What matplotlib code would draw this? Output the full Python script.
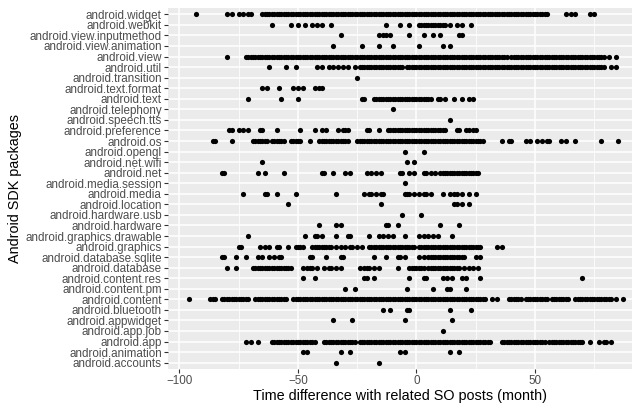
import matplotlib
matplotlib.use("Agg")
import matplotlib.pyplot as plt

plt.rcParams['font.family'] = ['Liberation Sans', 'DejaVu Sans']

# packages, top to bottom as in the chart
packages = ['android.widget', 'android.webkit', 'android.view.inputmethod',
            'android.view.animation', 'android.view', 'android.util',
            'android.transition', 'android.text.format', 'android.text',
            'android.telephony', 'android.speech.tts', 'android.preference',
            'android.os', 'android.opengl', 'android.net.wifi', 'android.net',
            'android.media.session', 'android.media', 'android.location',
            'android.hardware.usb', 'android.hardware', 'android.graphics.drawable',
            'android.graphics', 'android.database.sqlite', 'android.database',
            'android.content.res', 'android.content.pm', 'android.content',
            'android.bluetooth', 'android.appwidget', 'android.app.job',
            'android.app', 'android.animation', 'android.accounts']

# time differences (months)
widget = [-93, -80, -78, -75, -73, -71, -70,
          -65, -64, -63, -62, -61, -60, -59, -58, -57, -56, -55, -54, -53, -52, -51, -50,
          -49, -48, -47, -46, -45, -44, -43, -42, -41, -40, -39, -38, -37, -36, -35, -34,
          -33, -32, -31, -30, -29, -28, -27, -26, -25, -24, -23, -22, -21, -20, -19, -18,
          -17, -16, -15, -14, -13, -12, -11, -10, -9, -8, -7, -6, -5, -4, -3, -2, -1, 0,
          1, 2, 3, 4, 5, 6, 7, 8, 9, 10, 11, 12, 13, 14, 15, 16, 17, 18, 19, 20, 21, 22,
          23, 24, 25, 26, 27, 28, 29, 30, 31, 32, 33, 34, 35, 36, 37, 38, 39, 40, 41, 42,
          43, 44, 45, 46, 47, 48, 49, 50, 51, 52, 53, 54, 55,
          63, 65, 67, 73, 75]
webkit = [-61, -53, -50, -47, -44, -42, -40, -36, -13, -7, -3,
          1, 2, 3, 4, 5, 6, 7, 8, 9, 10, 11, 12, 14, 17, 19, 23]
view_inputmethod = [-32, -16, -14, -13, -11, -3, 3, 7, 10, 18, 19]
view_animation = [-35, -23, -16, -10, 1, 11, 14]
view = [-80,
        -72, -71, -70, -69, -68, -67, -66, -65, -64, -63, -62, -61, -60, -59, -58, -57,
        -56, -55, -54, -53, -52, -51, -50, -49, -48, -47, -46, -45, -44, -43, -42, -41,
        -40, -39, -38, -37, -36, -35, -34, -33, -32, -31, -30, -29, -28, -27, -26, -25,
        -24, -23, -22, -21, -20, -19, -18, -17, -16, -15, -14, -13, -12, -11, -10, -9,
        -8, -7, -6, -5, -4, -3, -2, -1, 0, 1, 2, 3, 4, 5, 6, 7, 8, 9, 10, 11, 12, 13,
        14, 15, 16, 17, 18, 19, 20, 21, 22, 23, 24, 25, 26, 27, 28, 29, 30, 31, 32, 33,
        34, 35, 36, 37, 38, 40, 41, 42, 43, 44, 45, 46, 47, 48, 49, 50, 51, 52, 53, 54,
        55, 56, 57, 58, 59, 60, 61, 62, 63, 64, 65, 66, 67, 68, 69, 70, 71, 72, 73, 74,
        75, 76, 77, 78, 79, 81, 84]
util = [-62, -55, -51, -42, -40, -37, -35, -33, -31, -29, -26,
        -24, -23, -22, -21, -20, -19, -18, -17, -16, -15, -14, -13, -12, -11, -10, -9,
        -8, -7, -6,
        -4, -3, -2, -1, 0, 1, 2, 3, 4, 5, 6, 7, 8, 9, 10, 11, 12, 13, 14, 15, 16, 17,
        18, 19, 20, 21, 22, 23, 24, 25, 26, 27, 28, 29, 30, 31, 32, 33, 34, 35, 36, 37,
        38, 39, 40, 41, 42, 43, 44, 45, 46, 47, 48, 49, 50, 51, 52, 53, 54, 55, 56, 57,
        58, 59, 60, 61, 62, 63, 64, 65, 66, 67, 68, 69, 70, 71, 72, 73, 74, 75, 76, 77,
        78, 79, 82, 84]
transition = [-25]
text_format = [-65, -63, -58, -52, -50, -48, -43, -41, -40]
text = [-71, -57, -50, -23, -22,
        -18, -17, -16, -15, -14, -13, -12, -11, -10, -9, -8, -7, -6, -5, -4, -3, -2,
        -1, 0, 1, 2, 3, 4, 5, 6, 9, 10, 12, 16, 19, 22, 24]
telephony = [-10]
speech_tts = [14]
preference = [-79, -78, -75, -73, -71, -66, -65, -59, -49, -43, -40, -38, -33, -31,
              -30, -29, -21, -20, -16,
              -12, -11, -10, -9, -8, -7, -6, -5, -4, -3, -2, -1, 0, 1, 2, 3, 4, 5, 6,
              7, 8, 9, 10, 11, 12, 17, 18, 21, 22, 24, 25]
os_ = [-86, -85, -78, -69, -68, -67, -66, -65, -64, -63, -61, -60, -59, -58, -57, -56,
       -53, -52, -51, -50, -49, -45, -41, -40, -39, -38, -37, -36, -35, -34, -33, -32,
       -31, -30, -29,
       -25, -24, -23, -22, -21, -20, -19, -18, -17, -16, -15, -14, -13, -12, -11, -10,
       -9, -8, -7, -6, -5, -4, -3, -2, -1, 0, 1, 2, 3, 4, 5, 6, 7, 8, 9, 10, 11, 12,
       13, 14, 15, 16, 17, 18, 19, 20, 21, 22, 23, 24, 25, 26, 27, 28,
       36, 39, 40, 46, 48, 51, 53, 55, 56, 61, 63, 67, 78, 85]
opengl = [-5, 3]
net_wifi = [-65, -4, -1]
net = [-82, -81, -67, -64, -56, -40, -39, -35, -30, -28, -21, -19, -17, -15, -7, -6,
       -3, -1, 3, 4, 6, 8, 10, 11, 12, 13, 14, 15, 16, 17, 18, 19, 20, 21, 22, 23, 24,
       25, 26]
media_session = [-5]
media = [-73, -64, -63, -59, -51, -34, -22, -20, -19, -17, -15, -14, -5, -4, -3, -1,
         1, 3, 4, 6, 11, 14, 16, 17, 19, 22, 25]
location = [-54, -15, 16, 17, 19, 22]
hardware_usb = [-6, 2]
hardware = [-41, -34, -32, -13, -12, -8, 10, 18]
graphics_drawable = [-71, -47, -43, -42, -40, -34, -29, -28, -20, -16, -14, -12, -10,
                     -5, 1, 3, 5, 7, 9, 15]
graphics = [-75, -74, -66, -64, -62, -59, -58, -54, -51, -50, -49, -48,
            -44, -43, -42, -41, -40, -39, -38, -37, -36, -34, -32, -30, -28, -27, -25,
            -23, -20, -19, -18, -17, -16, -15, -14, -13, -12, -11, -10, -9, -8, -7,
            -6, -5, -4, -3, -2, -1, 1, 2, 3, 4, 5, 6, 7, 8, 9, 10, 11, 12, 13, 14, 15,
            16, 17, 18, 19, 20, 21, 22, 23, 24, 25, 26, 27, 34, 36]
database_sqlite = [-82, -81, -76, -72, -67, -65, -62, -60, -58, -57, -45, -44, -38, -32,
                   -31, -18, -13, -8, -7, -5, 1, 3, 5, 6, 7, 8, 9, 10, 11, 12, 13, 14,
                   15, 16, 17, 18, 19, 20, 25, 27]
database = [-80, -76, -69, -68, -67, -66, -65, -64, -63, -62, -61, -60, -59, -58, -57,
            -56, -55, -54, -53, -48, -46, -45, -44, -42, -39, -37, -36, -34, -32, -24,
            -22, -21, -20, -18, -16, -8, -3, -2, -1, 0, 1, 2, 3, 5, 6, 7, 8, 9, 10, 11,
            12, 13, 14, 15, 16, 17, 18, 20, 22, 24, 26]
content_res = [-48, -43, -22, -21, -18, -3, 3, 4, 11, 13, 15, 19, 21, 27, 70]
content_pm = [-30, -26, -4, 7, 13, 14, 21]
content = [-96, -87, -86, -85,
           -82, -81, -80, -79, -78, -77, -76, -75, -74, -73, -72, -71,
           -68, -67, -66, -65, -64, -63, -62, -61, -60, -59, -58, -57, -56, -55,
           -52, -51, -50, -49, -48, -47, -46, -45, -44, -43, -42, -41, -40, -39, -38,
           -37, -36, -35, -34, -33, -32, -31, -30, -29, -28, -27, -26, -25, -24, -23,
           -22, -21, -20, -19, -18, -17, -16, -15, -14, -13, -12, -11, -10, -9, -8, -7,
           -6, -5, -4, -3, -2, -1, 0, 1, 2, 3, 4, 5, 6, 7, 8, 9, 10, 11, 12, 13, 14, 15,
           16, 17, 18, 19, 20, 21, 22, 23, 24, 25, 26, 27, 28, 29, 32, 34,
           39, 40, 41, 42, 43, 44, 46, 47, 48, 49, 50, 51, 52, 53, 54, 55,
           57, 58, 59, 60, 61, 62, 63, 64, 67, 68, 69, 70, 71, 72, 73, 74, 75, 76, 77,
           78, 79, 80, 81, 82, 84, 87]
bluetooth = [-14, -11, -4, -3, 14, 23]
appwidget = [-35, -27, -5, 15]
app_job = [11]
app = [-72, -70, -67,
       -61, -60, -59, -58, -57, -56, -55, -54, -53, -52, -51, -50, -49, -48, -47, -46,
       -45, -44, -43, -39, -38, -37, -36, -35, -34, -33, -32, -31, -30, -29, -28, -27,
       -26, -24, -23, -22, -21, -20, -19, -18, -17, -16, -15, -14, -13, -12, -11, -10,
       -9, -8, -7, -6, -5, -4, -3, -2, -1, 0, 1, 2, 3, 4, 5, 6, 7, 8, 9, 10, 11, 12,
       13, 14, 15, 16, 17, 18, 19, 20, 21, 22, 23, 24, 25, 26, 27, 28, 29, 30, 31,
       36, 37, 38, 39, 40, 41, 42, 43, 44, 45, 46, 47, 48, 49, 50, 51, 52, 53, 54,
       56, 57, 58, 59, 60, 61, 62, 63, 64, 65, 66, 67, 68, 69, 70, 73, 77, 79, 80, 82]
animation = [-48, -46, -32, -28, -7, -5, 14, 18]
accounts = [-34, -16]

values = [widget, webkit, view_inputmethod, view_animation, view, util, transition,
          text_format, text, telephony, speech_tts, preference, os_, opengl, net_wifi,
          net, media_session, media, location, hardware_usb, hardware, graphics_drawable,
          graphics, database_sqlite, database, content_res, content_pm, content,
          bluetooth, appwidget, app_job, app, animation, accounts]

fig = plt.figure(figsize=(6.4, 4.05), dpi=100)
ax = fig.add_axes([168 / 640, 36 / 405, 464 / 640, 361 / 405])
ax.set_facecolor('#EBEBEB')

n = len(packages)
for i, (pkg, vals) in enumerate(zip(packages, values)):
    ypos = n - i
    ax.scatter(vals, [ypos] * len(vals), s=14, color='black', linewidths=0, zorder=3)

ax.set_xlim(-104.8, 90.9)
ax.set_ylim(0.4, n + 0.6)
ax.set_xticks([-100, -50, 0, 50])
ax.set_xticks([-75, -25, 25, 75], minor=True)
ax.set_yticks(range(n, 0, -1))
ax.set_yticklabels(packages)

ax.grid(True, which='major', color='white', linewidth=1.1, zorder=0)
ax.grid(True, which='minor', axis='x', color='white', linewidth=0.55, zorder=0)
ax.set_axisbelow(True)
for sp in ax.spines.values():
    sp.set_visible(False)

ax.tick_params(axis='both', which='major', length=3, width=0.8, color='#333333',
               labelcolor='#4D4D4D', labelsize=8.4, pad=1.5)
ax.tick_params(axis='x', which='minor', length=0)

ax.set_xlabel('Time difference with related SO posts (month)', fontsize=10.4,
              color='black', labelpad=1.5)
ax.set_ylabel('Android SDK packages', fontsize=10.4, color='black', labelpad=2)

fig.savefig('out.png', dpi=100)
